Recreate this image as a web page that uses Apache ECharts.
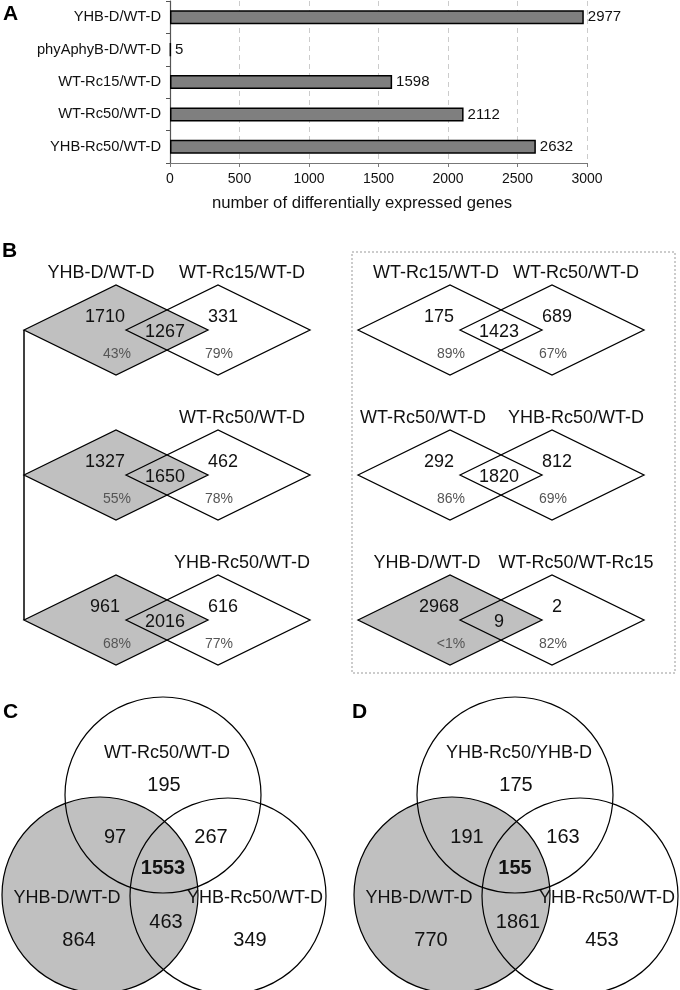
<!DOCTYPE html>
<html>
<head>
<meta charset="utf-8">
<script src="https://cdn.jsdelivr.net/npm/echarts@6/dist/echarts.min.js"></script>
<style>
html,body{margin:0;padding:0;background:#fff;}
#chart{width:680px;height:990px;}
</style>
</head>
<body>
<div id="chart"></div>
<script>
// ---------- Panel A data ----------
const barCategories = ['YHB-D/WT-D', 'phyAphyB-D/WT-D', 'WT-Rc15/WT-D', 'WT-Rc50/WT-D', 'YHB-Rc50/WT-D'];
const barValues = [2977, 5, 1598, 2112, 2632];
const xAxisMin = 0, xAxisMax = 3000, xAxisStep = 500;
const xAxisTitle = 'number of differentially expressed genes';

// ---------- Panel B data (diamond pairs) ----------
const bLeftNames  = ['YHB-D/WT-D', '', '', 'WT-Rc15/WT-D', 'WT-Rc50/WT-D', 'YHB-D/WT-D'];
const bRightNames = ['WT-Rc15/WT-D', 'WT-Rc50/WT-D', 'YHB-Rc50/WT-D', 'WT-Rc50/WT-D', 'YHB-Rc50/WT-D', 'WT-Rc50/WT-Rc15'];
const bOnlyLeft   = [1710, 1327, 961, 175, 292, 2968];
const bShared     = [1267, 1650, 2016, 1423, 1820, 9];
const bOnlyRight  = [331, 462, 616, 689, 812, 2];
const bPctLeft    = ['43%', '55%', '68%', '89%', '86%', '<1%'];
const bPctRight   = ['79%', '78%', '77%', '67%', '69%', '82%'];
const bLeftShaded = [true, true, true, false, false, true];

// ---------- Panel C / D data (3-set Venn) ----------
const vennCSets   = ['WT-Rc50/WT-D', 'YHB-D/WT-D', 'YHB-Rc50/WT-D'];
// order: topOnly, top&left, top&right, all, leftOnly, left&right, rightOnly
const vennCValues = [195, 97, 267, 1553, 864, 463, 349];
const vennDSets   = ['YHB-Rc50/YHB-D', 'YHB-D/WT-D', 'YHB-Rc50/WT-D'];
const vennDValues = [175, 191, 163, 155, 770, 1861, 453];

// ---------- styles / layout ----------
const FONT = '"Liberation Sans", Arial, Helvetica, sans-serif';
const BAR_GRAY = '#7f7f7f';
const SHADE = '#c0c0c0';

const chart = echarts.init(document.getElementById('chart'), null, {renderer: 'canvas'});
const g = [];

function txt(x, y, s, size, opts) {
  opts = opts || {};
  g.push({
    type: 'text', x: x, y: y, z: opts.z || 30,
    style: {
      text: String(s), fill: opts.color || '#111',
      font: (opts.bold ? 'bold ' : '') + size + 'px ' + FONT,
      align: opts.align || 'center', verticalAlign: 'middle'
    }
  });
}

// panel letters
txt(3, 14, 'A', 21, {bold: true, align: 'left', color: '#000'});
txt(2, 251, 'B', 21, {bold: true, align: 'left', color: '#000'});
txt(3, 712, 'C', 21, {bold: true, align: 'left', color: '#000'});
txt(352, 712, 'D', 21, {bold: true, align: 'left', color: '#000'});

// axis title of panel A
txt(362, 203, xAxisTitle, 16.7, {color: '#111'});

// ---------- Panel B drawing ----------
const DHW = 92, DHH = 45;
const rowCY = [330, 475, 620, 330, 475, 620];
const rowCL = [116, 116, 116, 450, 450, 450];
const SEP = 102;
const headerLX = [101, 0, 0, 436, 423, 427];
const headerRDX = 24;

function diamond(cx, cy, fill, z, stroke) {
  g.push({
    type: 'polygon', z: z,
    shape: {points: [[cx - DHW, cy], [cx, cy - DHH], [cx + DHW, cy], [cx, cy + DHH]]},
    style: stroke ? {fill: 'none', stroke: '#000', lineWidth: 1.3} : {fill: fill, stroke: 'none'}
  });
}

for (let i = 0; i < bOnlyLeft.length; i++) {
  const cy = rowCY[i], cl = rowCL[i], cr = cl + SEP;
  diamond(cr, cy, '#fff', 10, false);
  diamond(cl, cy, bLeftShaded[i] ? SHADE : '#fff', 11, false);
  diamond(cl, cy, null, 12, true);
  diamond(cr, cy, null, 12, true);
  if (bLeftNames[i]) txt(headerLX[i], cy - 57, bLeftNames[i], 18);
  txt(cr + headerRDX, cy - 57, bRightNames[i], 18);
  txt(cl - 11, cy - 13, bOnlyLeft[i], 18);
  txt((cl + cr) / 2 - 2, cy + 2, bShared[i], 18);
  txt(cr + 5, cy - 13, bOnlyRight[i], 18);
  txt(cl + 1, cy + 24, bPctLeft[i], 14, {color: '#555'});
  txt(cr + 1, cy + 24, bPctRight[i], 14, {color: '#555'});
}
// connector line
g.push({type: 'line', z: 12, shape: {x1: 24, y1: 330, x2: 24, y2: 620}, style: {stroke: '#000', lineWidth: 1.5}});
// dotted box
g.push({type: 'rect', z: 5, shape: {x: 352, y: 252, width: 323, height: 421},
  style: {fill: 'none', stroke: '#999', lineWidth: 1, lineDash: [2, 2]}});

// ---------- Panel C/D drawing ----------
const VR = 98;
const circleOff = [[0, 0], [-63, 100], [65, 101]]; // top, left, right
const valueOff = [[1, -10], [-48, 42], [48, 42], [0, 73], [-84, 145], [3, 127], [87, 145]];
const setLabelOff = [[4, -42], [-96, 103], [92, 103]];

function venn(ox, oy, sets, vals) {
  g.push({type: 'circle', z: 10, shape: {cx: ox + circleOff[1][0], cy: oy + circleOff[1][1], r: VR},
    style: {fill: SHADE, stroke: 'none'}});
  circleOff.forEach(function (c) {
    g.push({type: 'circle', z: 12, shape: {cx: ox + c[0], cy: oy + c[1], r: VR},
      style: {fill: 'none', stroke: '#000', lineWidth: 1.2}});
  });
  sets.forEach(function (s, i) {
    txt(ox + setLabelOff[i][0], oy + setLabelOff[i][1], s, 18);
  });
  vals.forEach(function (v, i) {
    txt(ox + valueOff[i][0], oy + valueOff[i][1], v, 20, {bold: i === 3});
  });
}
venn(163, 795, vennCSets, vennCValues);
venn(515, 795, vennDSets, vennDValues);

const option = {
  animation: false,
  backgroundColor: '#fff',
  textStyle: {fontFamily: FONT},
  grid: {left: 170, top: 1, width: 417, height: 162, containLabel: false},
  xAxis: {
    type: 'value', min: xAxisMin, max: xAxisMax, interval: xAxisStep,
    axisLine: {show: true, lineStyle: {color: '#777', width: 1.2}},
    axisTick: {show: true, length: 4, lineStyle: {color: '#777'}},
    axisLabel: {fontSize: 14, color: '#111', margin: 9, fontFamily: FONT,
      formatter: function (v) { return String(v); }},
    splitLine: {show: true, lineStyle: {color: '#ccc', type: [5, 4], width: 1}}
  },
  yAxis: {
    type: 'category', data: barCategories, inverse: true,
    axisLine: {show: true, lineStyle: {color: '#555', width: 1.2}},
    axisTick: {show: true, length: 4, lineStyle: {color: '#555'}},
    axisLabel: {fontSize: 14.7, color: '#111', margin: 9, fontFamily: FONT}
  },
  series: [{
    type: 'bar', data: barValues, barWidth: 14,
    itemStyle: {color: BAR_GRAY, borderColor: '#000', borderWidth: 1.5},
    label: {show: true, position: 'right', distance: 4, fontSize: 15, color: '#111', fontFamily: FONT}
  }],
  graphic: g
};
chart.setOption(option);
</script>
</body>
</html>
